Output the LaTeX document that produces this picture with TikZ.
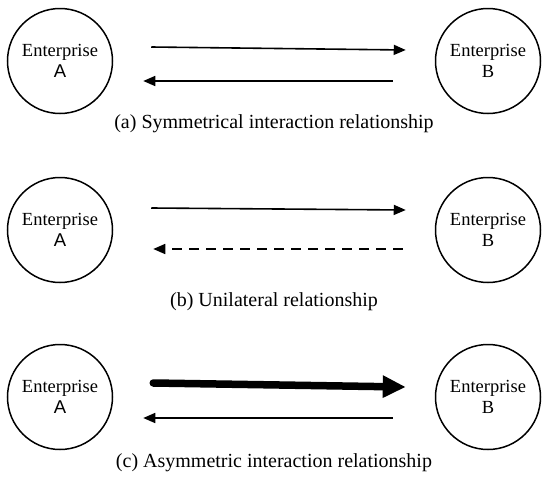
\documentclass[tikz,border=0pt]{standalone}
\usepackage{fontspec}
\setmainfont{Liberation Serif}
\newfontfamily\arialfont{Liberation Sans}
\usetikzlibrary{arrows.meta}
\begin{document}
\begin{tikzpicture}[x=1pt,y=-1pt,
  firm/.style={circle,draw=black,line width=1.5pt,minimum size=105pt,inner sep=0pt,
    align=center,font=\fontsize{18.5}{22.5}\selectfont},
  thinarrow/.style={line width=1.6pt,-{Triangle[length=12pt,width=10pt]}},
  dasharrow/.style={thinarrow,dash pattern=on 10pt off 7pt},
  thickarrow/.style={line width=7.5pt,line cap=round,-{Triangle[length=23pt,width=21pt]}},
  caption/.style={font=\fontsize{20}{24}\selectfont,inner sep=0pt}]
\useasboundingbox (0,0) rectangle (550,485);
% (a)
\node[firm] (A1) at (60,61) {Enterprise\\[-1pt]{\arialfont A}};
\node[firm] (B1) at (488,61) {Enterprise\\[-1pt]B};
\draw[thinarrow] ([xshift=38pt,yshift=14pt]A1.east) -- ([xshift=-29pt,yshift=11pt]B1.west);
\draw[thinarrow] ([xshift=-42pt,yshift=-20pt]B1.west) -- ([xshift=30pt,yshift=-20pt]A1.east);
\node[caption] (ca) at (274,124) {(a) Symmetrical interaction relationship};
% (b)
\node[firm] (A2) at (60,230) {Enterprise\\[-1pt]{\arialfont A}};
\node[firm] (B2) at (488,230) {Enterprise\\[-1pt]B};
\draw[thinarrow] ([xshift=38pt,yshift=22pt]A2.east) -- ([xshift=-29pt,yshift=20pt]B2.west);
\draw[dasharrow] ([xshift=-32pt,yshift=-19pt]B2.west) -- ([xshift=40pt,yshift=-19pt]A2.east);
\node[caption] (cb) at (274,302) {(b) Unilateral relationship};
% (c)
\node[firm] (A3) at (60,397) {Enterprise\\[-1pt]{\arialfont A}};
\node[firm] (B3) at (488,397) {Enterprise\\[-1pt]B};
\draw[thickarrow] ([xshift=40pt,yshift=14pt]A3.east) -- ([xshift=-29pt,yshift=10pt]B3.west);
\draw[thinarrow] ([xshift=-42pt,yshift=-21pt]B3.west) -- ([xshift=30pt,yshift=-21pt]A3.east);
\node[caption] (cc) at (274,463) {(c) Asymmetric interaction relationship};
\end{tikzpicture}
\end{document}
